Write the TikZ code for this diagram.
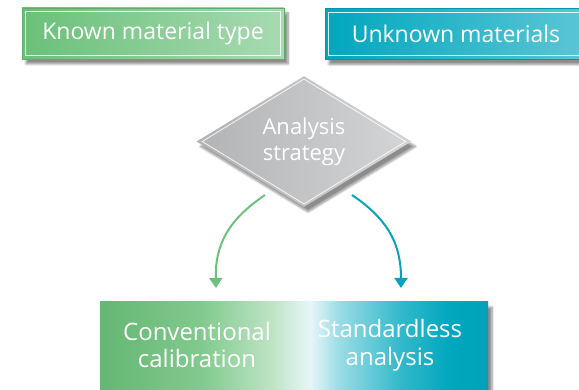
\documentclass[tikz,border=0pt]{standalone}
\usepackage{fontspec}
\setmainfont{Open Sans}
\usetikzlibrary{shapes.geometric,arrows.meta,shadows.blur}
\definecolor{kgreen}{HTML}{6AC079}
\definecolor{kgreenL}{HTML}{A8DAB2}
\definecolor{kteal}{HTML}{00A7BE}
\definecolor{ktealL}{HTML}{5CC6D6}
\definecolor{agreen}{HTML}{6CC17C}
\definecolor{ateal}{HTML}{08A3BA}
\definecolor{dgrayD}{HTML}{B2B3B5}
\definecolor{dgrayL}{HTML}{D4D5D7}
\pgfdeclarehorizontalshading{bottomshade}{100bp}{%
  color(0bp)=(kgreen!95!black);
  color(25bp)=(kgreen!95!black);
  color(37.9bp)=(kgreen!85!white);
  color(46.9bp)=(kgreen!45!white);
  color(52.1bp)=(kteal!10!white);
  color(55.9bp)=(kteal!40!white);
  color(63.7bp)=(kteal!80!white);
  color(70.1bp)=(kteal);
  color(75bp)=(kteal!97!black);
  color(100bp)=(kteal!97!black)}
\tikzset{
  shadowed/.style={blur shadow={shadow xshift=4pt,shadow yshift=-5pt,shadow blur steps=8,shadow opacity=45}},
  topbox/.style={rectangle,minimum width=262pt,minimum height=51pt,inner sep=0pt,
    text=white,font=\fontsize{23}{27}\selectfont,shadowed},
  innerline/.style={draw=white,line width=0.8pt,opacity=0.85},
  lbl/.style={text=white,align=center,font=\fontsize{24}{28}\selectfont},
  arr/.style={line width=2pt,-{Triangle[width=13pt,length=10pt]}}
}
\begin{document}
\begin{tikzpicture}[x=1pt,y=-1pt]
\useasboundingbox (0,0) rectangle (579,390);
% top boxes
\node[topbox,left color=kgreen,right color=kgreenL,draw=kgreen!90!black,line width=0.8pt] (known) at (153,33.5) {Known material type};
\draw[innerline] ([xshift=4pt,yshift=-4pt]known.north west) rectangle ([xshift=-4pt,yshift=4pt]known.south east);
\node[topbox,left color=kteal,right color=ktealL,draw=kteal!90!black,line width=0.8pt] (unknown) at (456,34) {Unknown materials};
\draw[innerline] ([xshift=4pt,yshift=-4pt]unknown.north west) rectangle ([xshift=-4pt,yshift=4pt]unknown.south east);
% diamond
\node[diamond,minimum width=215pt,minimum height=113pt,inner sep=0pt,
  left color=dgrayD,right color=dgrayL,shadowed,text=white,align=center,
  font=\fontsize{22}{26}\selectfont] (strat) at (304,141.5) {Analysis\\strategy};
\draw[innerline] ([xshift=6pt]strat.west) -- ([yshift=-3.2pt]strat.north) -- ([xshift=-6pt]strat.east) -- ([yshift=3.2pt]strat.south) -- cycle;
% bottom box
\node[rectangle,minimum width=388pt,minimum height=100pt,inner sep=0pt,shading=bottomshade,shadowed] (result) at (294,352) {};
\node[lbl] (conv) at (197,345) {Conventional\\calibration};
\node[lbl] (std) at (390,345) {Standardless\\analysis};
% arrows
\coordinate (gs) at (265,195);
\coordinate (ge) at (216,288);
\coordinate (ts) at (352,195);
\coordinate (te) at (401,288);
\draw[arr,agreen] (gs) .. controls (228,220) and (215,245) .. (ge);
\draw[arr,ateal] (ts) .. controls (389,220) and (401,245) .. (te);
\end{tikzpicture}
\end{document}
